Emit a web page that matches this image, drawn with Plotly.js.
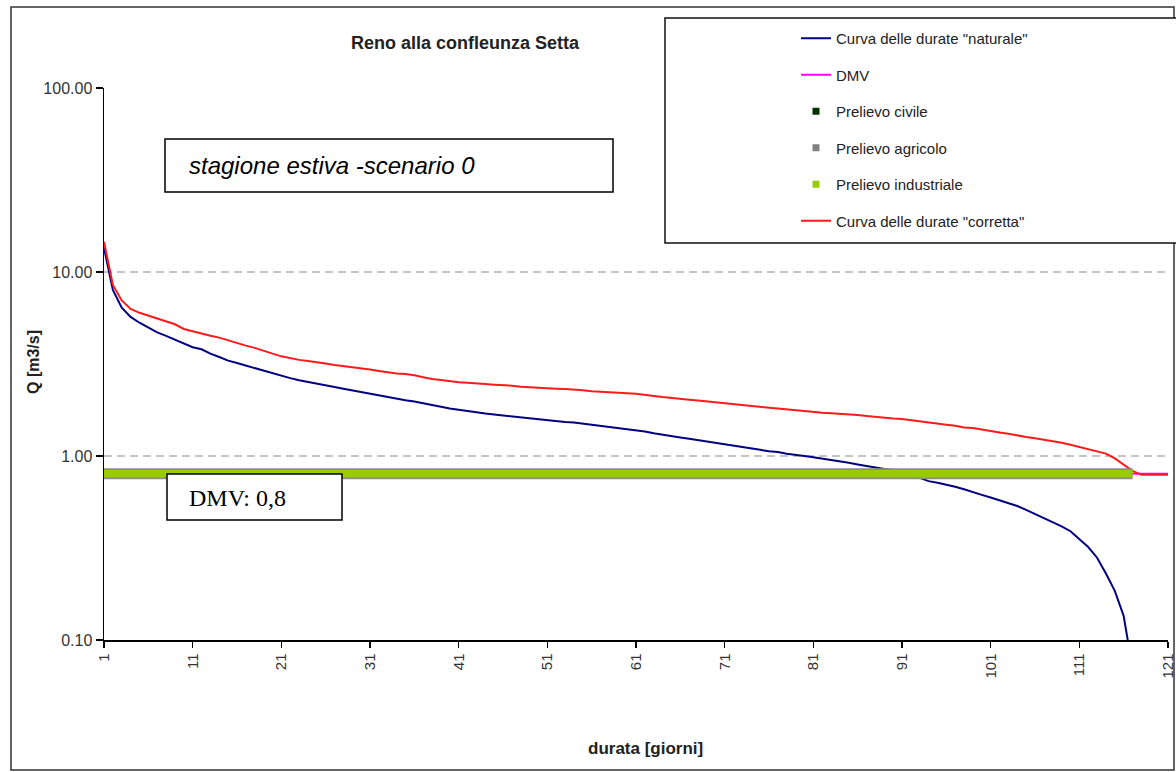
<!DOCTYPE html>
<html>
<head>
<meta charset="utf-8">
<script src="https://cdn.plot.ly/plotly-3.0.1.min.js"></script>
<style>html,body{margin:0;padding:0;background:#fff;}#chart{width:1176px;height:772px;}</style>
</head>
<body>
<div id="chart"></div>
<script>
// ---- data ----
const chartTitle = 'Reno alla confleunza Setta';
const xTitle = 'durata [giorni]';
const yTitle = 'Q [m3/s]';
const boxNote = 'stagione estiva -scenario 0';
const dmvNote = 'DMV: 0,8';

const seriesNames = ['Curva delle durate "naturale"', 'DMV', 'Prelievo civile', 'Prelievo agricolo', 'Prelievo industriale', 'Curva delle durate "corretta"'];

const naturale = [13.5, 8.0, 6.4, 5.7, 5.3, 5.0, 4.7, 4.5, 4.3, 4.1,
  3.9, 3.8, 3.6, 3.45, 3.3, 3.2, 3.1, 3.0, 2.9, 2.8,
  2.72, 2.65, 2.58, 2.52, 2.47, 2.42, 2.37, 2.32, 2.27, 2.22,
  2.18, 2.14, 2.09, 2.05, 2.01, 1.98, 1.93, 1.89, 1.85, 1.81,
  1.78, 1.75, 1.72, 1.70, 1.68, 1.66, 1.64, 1.62, 1.60, 1.58,
  1.56, 1.55, 1.53, 1.52, 1.50, 1.48, 1.46, 1.44, 1.42, 1.40,
  1.38, 1.36, 1.33, 1.31, 1.29, 1.26, 1.24, 1.22, 1.20, 1.18,
  1.16, 1.14, 1.12, 1.10, 1.08, 1.06, 1.05, 1.03, 1.01, 1.00,
  0.985, 0.97, 0.95, 0.935, 0.92, 0.90, 0.88, 0.865, 0.85, 0.84,
  0.82, 0.80, 0.76, 0.73, 0.715, 0.70, 0.68, 0.66, 0.635, 0.615,
  0.595, 0.575, 0.555, 0.535, 0.51, 0.485, 0.46, 0.44, 0.415, 0.39,
  0.355, 0.32, 0.28, 0.23, 0.185, 0.135, 0.07];

const corretta = [14.6, 8.5, 7.0, 6.3, 6.0, 5.8, 5.6, 5.4, 5.2, 4.9,
  4.75, 4.6, 4.5, 4.4, 4.25, 4.1, 3.98, 3.87, 3.75, 3.6,
  3.48, 3.4, 3.33, 3.28, 3.24, 3.18, 3.12, 3.08, 3.05, 3.0,
  2.95, 2.9, 2.85, 2.81, 2.79, 2.75, 2.68, 2.62, 2.59, 2.55,
  2.52, 2.5, 2.49, 2.46, 2.44, 2.43, 2.41, 2.38, 2.36, 2.34,
  2.33, 2.32, 2.31, 2.30, 2.28, 2.25, 2.23, 2.21, 2.2, 2.19,
  2.18, 2.16, 2.12, 2.09, 2.06, 2.04, 2.02, 2.0, 1.98, 1.96,
  1.94, 1.92, 1.90, 1.87, 1.85, 1.83, 1.81, 1.79, 1.77, 1.76,
  1.74, 1.72, 1.71, 1.70, 1.68, 1.67, 1.65, 1.63, 1.62, 1.60,
  1.59, 1.57, 1.55, 1.53, 1.51, 1.48, 1.46, 1.43, 1.42, 1.39,
  1.37, 1.34, 1.32, 1.29, 1.27, 1.25, 1.23, 1.20, 1.18, 1.15,
  1.12, 1.09, 1.06, 1.03, 0.97, 0.90, 0.83, 0.79, 0.79, 0.79, 0.79];

const dmvValue = 0.8;
const dmvDays = 121;
const industrialeValue = 0.8;
const industrialeDays = 117;

const xTickVals = [1, 11, 21, 31, 41, 51, 61, 71, 81, 91, 101, 111, 121];
const xTickText = ['1', '11', '21', '31', '41', '51', '61', '71', '81', '91', '101', '111', '121'];
const yTickVals = [0.1, 1, 10, 100];
const yTickText = ['0.10', '1.00', '10.00', '100.00'];

// ---- build ----
const days = n => Array.from({length: n}, (_, i) => i + 1);
const constant = (v, n) => Array.from({length: n}, () => v);

const FONT = 'Liberation Sans, Arial, sans-serif';

const traces = [
  {x: days(naturale.length), y: naturale, name: seriesNames[0], type: 'scatter', mode: 'lines',
   line: {color: '#000080', width: 2}, legendrank: 1, legendgroup: 'g1'},
  {x: days(dmvDays), y: constant(dmvValue, dmvDays), name: seriesNames[1], type: 'scatter', mode: 'lines',
   line: {color: '#ff00ff', width: 2}, legendrank: 2, legendgroup: 'g2'},
  {x: days(corretta.length), y: corretta, name: seriesNames[5], type: 'scatter', mode: 'lines',
   line: {color: '#ff1a1a', width: 2}, legendrank: 6, legendgroup: 'g6'},
  {x: days(industrialeDays), y: constant(industrialeValue, industrialeDays), type: 'scatter', mode: 'lines',
   line: {color: '#8c8c8c', width: 11}, showlegend: false, hoverinfo: 'skip'},
  {x: days(industrialeDays), y: constant(industrialeValue, industrialeDays), type: 'scatter', mode: 'lines',
   line: {color: '#99cc00', width: 7.5}, showlegend: false, legendgroup: 'g5'},
  {x: [null], y: [null], name: seriesNames[2], type: 'scatter', mode: 'markers',
   marker: {symbol: 'square', size: 7, color: '#003300'}, legendrank: 3, legendgroup: 'g3'},
  {x: [null], y: [null], name: seriesNames[3], type: 'scatter', mode: 'markers',
   marker: {symbol: 'square', size: 7, color: '#808080'}, legendrank: 4, legendgroup: 'g4'},
  {x: [null], y: [null], name: seriesNames[4], type: 'scatter', mode: 'markers',
   marker: {symbol: 'square', size: 7, color: '#99cc00'}, legendrank: 5, legendgroup: 'g5'}
];

// plot area: x 104..1168 px, y 88..640 px
const L = 104, T = 88, W = 1064, H = 552;
const px = v => (v - L) / W;
const py = v => (T + H - v) / H;

const layout = {
  width: 1176, height: 772,
  margin: {l: L, r: 1176 - L - W, t: T, b: 772 - T - H},
  paper_bgcolor: '#ffffff', plot_bgcolor: '#ffffff',
  font: {family: FONT, color: '#222'},
  showlegend: true,
  legend: {x: px(796), y: py(22), xanchor: 'left', yanchor: 'top', bgcolor: 'rgba(0,0,0,0)',
    borderwidth: 0, font: {family: FONT, size: 15, color: '#222'}, traceorder: 'grouped', tracegroupgap: 14},
  xaxis: {range: [1, 121], tickmode: 'array', tickvals: xTickVals, ticktext: xTickText, tickangle: -90,
    ticks: 'outside', ticklen: 6, tickwidth: 1.5, tickcolor: '#000', showline: true, linecolor: '#000', linewidth: 1.5,
    showgrid: false, zeroline: false, tickfont: {family: FONT, size: 15, color: '#333'}},
  yaxis: {type: 'log', range: [-1, 2], tickmode: 'array', tickvals: yTickVals, ticktext: yTickText,
    ticks: 'outside', ticklen: 7, tickwidth: 1.5, tickcolor: '#000', showline: true, linecolor: '#000', linewidth: 1.5,
    showgrid: true, gridcolor: '#c4c4c4', gridwidth: 1.5, griddash: '8px,5px', zeroline: false,
    tickfont: {family: FONT, size: 16, color: '#333'}},
  shapes: [
    {type: 'rect', xref: 'paper', yref: 'paper', x0: px(11), x1: px(1174), y0: py(770), y1: py(7),
     line: {color: '#333', width: 1.5}, fillcolor: 'rgba(0,0,0,0)', layer: 'below'},
    {type: 'rect', xref: 'paper', yref: 'paper', x0: px(665), x1: px(1190), y0: py(243), y1: py(18),
     line: {color: '#111', width: 1.5}, fillcolor: '#ffffff', layer: 'below'},
    {type: 'rect', xref: 'paper', yref: 'paper', x0: px(165), x1: px(613), y0: py(192), y1: py(139),
     line: {color: '#000', width: 1.5}, fillcolor: '#ffffff', layer: 'above'},
    {type: 'rect', xref: 'paper', yref: 'paper', x0: px(167), x1: px(342), y0: py(520), y1: py(474),
     line: {color: '#000', width: 1.5}, fillcolor: '#ffffff', layer: 'above'}
  ],
  annotations: [
    {text: '<b>' + chartTitle + '</b>', xref: 'paper', yref: 'paper', x: px(465), y: py(43),
     xanchor: 'center', yanchor: 'middle', showarrow: false, font: {family: FONT, size: 18, color: '#222'}},
    {text: '<b>' + xTitle + '</b>', xref: 'paper', yref: 'paper', x: px(645), y: py(748),
     xanchor: 'center', yanchor: 'middle', showarrow: false, font: {family: FONT, size: 17, color: '#222'}},
    {text: '<b>' + yTitle + '</b>', xref: 'paper', yref: 'paper', x: px(33), y: py(362), textangle: -90,
     xanchor: 'center', yanchor: 'middle', showarrow: false, font: {family: FONT, size: 16, color: '#222'}},
    {text: '<i>' + boxNote + '</i>', xref: 'paper', yref: 'paper', x: px(187), y: py(166),
     xanchor: 'left', yanchor: 'middle', showarrow: false, font: {family: FONT, size: 24, color: '#000'}},
    {text: dmvNote, xref: 'paper', yref: 'paper', x: px(187), y: py(498),
     xanchor: 'left', yanchor: 'middle', showarrow: false, font: {family: 'Liberation Serif, Times New Roman, serif', size: 24, color: '#000'}}
  ]
};

Plotly.newPlot('chart', traces, layout, {displayModeBar: false, staticPlot: true});
</script>
</body>
</html>
